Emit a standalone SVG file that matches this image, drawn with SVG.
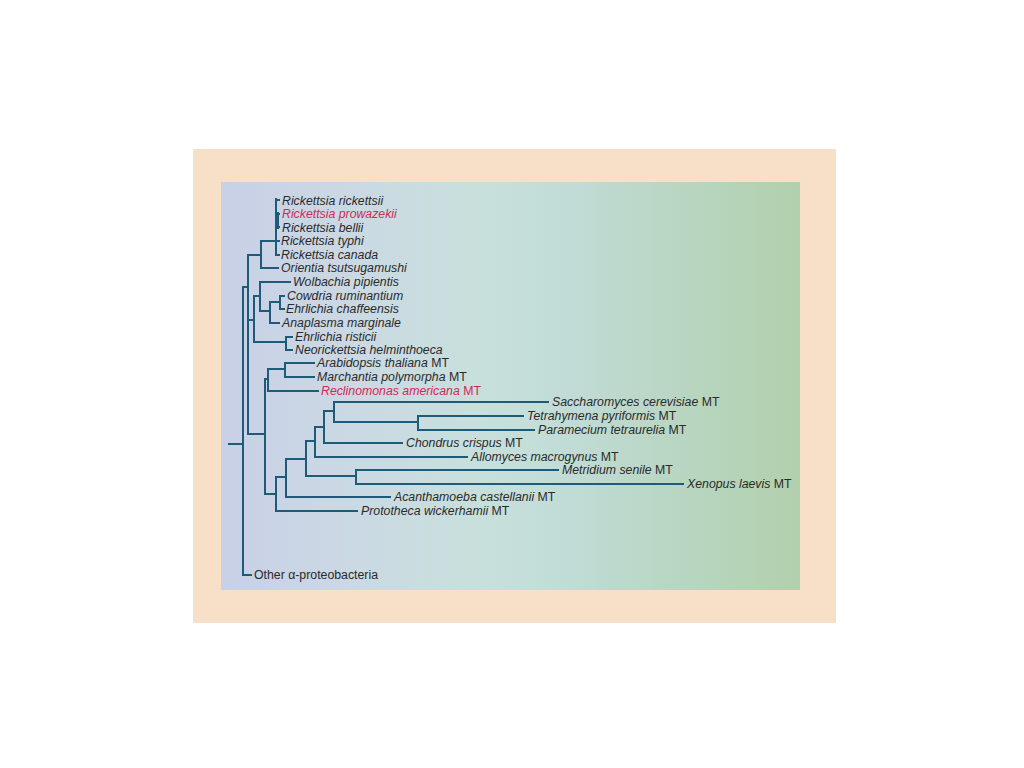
<svg xmlns="http://www.w3.org/2000/svg" width="1024" height="768" viewBox="0 0 1024 768">
<defs>
<linearGradient id="panelGrad" x1="221" y1="0" x2="800" y2="0" gradientUnits="userSpaceOnUse">
<stop offset="0" stop-color="#c8d0e6"/>
<stop offset="0.2" stop-color="#cbd8e4"/>
<stop offset="0.45" stop-color="#c8e0dc"/>
<stop offset="0.6" stop-color="#c1dcd6"/>
<stop offset="0.75" stop-color="#bad7c6"/>
<stop offset="1" stop-color="#b2d0ac"/>
</linearGradient>
<style>
.ln{fill:none;stroke:#1d5b78;stroke-width:2;stroke-linecap:square}
.lb{font-family:"Liberation Sans",Arial,sans-serif;font-size:12.3px;fill:#2a2a2a}
.sp{font-style:italic}
.red{fill:#cf2a55}
</style>
</defs>
<rect x="0" y="0" width="1024" height="768" fill="#ffffff"/>
<rect x="193" y="149" width="643" height="474" fill="#f8e0c8"/>
<rect x="221" y="182" width="579" height="408" fill="url(#panelGrad)"/>

<g id="connectors">
<!-- Rickettsia -->
<path class="ln" d="M276 199V255M276 200H279M276 214H279M276 227H279M276 241H279M276 255H279"/>
<path d="M277.5 212V229" stroke="#1d5b78" stroke-width="3"/>
<path class="ln" d="M261 241H276M261 241V268H278M248 255H261"/>
<!-- Anaplasmataceae -->
<path class="ln" d="M260 282H290M260 282V311H270M270 302V323H279M270 302H280M280 296V309M280 296H284M280 309H284"/>
<path class="ln" d="M254 296H260M254 296V342H286M286 337V350M286 337H292M286 350H292"/>
<path class="ln" d="M248 320H254"/>
<!-- spine -->
<path class="ln" d="M248 255V434M243 287H248M243 287V575H251M229 444H243"/>
<!-- mitochondria -->
<path class="ln" d="M248 434H265M265 379V494"/>
<path class="ln" d="M265 379H268M268 369V391H318M268 369H285M285 363V377M285 363H314M285 377H314"/>
<path class="ln" d="M265 494H276M276 477V511H357M276 477H286M286 459V497H390M286 459H306"/>
<path class="ln" d="M306 441V476H356M356 470V484M356 470H558M356 484H683"/>
<path class="ln" d="M306 441H315M315 427V457H467M315 427H324M324 411V443H402M324 411H334"/>
<path class="ln" d="M334 402V422M334 402H548M334 422H418M418 416V430M418 416H523M418 430H534"/>
</g>

<g id="n-rickettsii"><text class="lb sp" x="282" y="205">Rickettsia rickettsii</text></g>
<g id="n-prowazekii"><text class="lb sp red" x="282" y="218">Rickettsia prowazekii</text></g>
<g id="n-bellii"><text class="lb sp" x="282" y="232">Rickettsia bellii</text></g>
<g id="n-typhi"><text class="lb sp" x="281" y="245">Rickettsia typhi</text></g>
<g id="n-canada"><text class="lb sp" x="281" y="259">Rickettsia canada</text></g>
<g id="n-orientia"><text class="lb sp" x="281" y="272">Orientia tsutsugamushi</text></g>
<g id="n-wolbachia"><text class="lb sp" x="293" y="286">Wolbachia pipientis</text></g>
<g id="n-cowdria"><text class="lb sp" x="287" y="300">Cowdria ruminantium</text></g>
<g id="n-chaffeensis"><text class="lb sp" x="286" y="313">Ehrlichia chaffeensis</text></g>
<g id="n-anaplasma"><text class="lb sp" x="282" y="327">Anaplasma marginale</text></g>
<g id="n-risticii"><text class="lb sp" x="295" y="341">Ehrlichia risticii</text></g>
<g id="n-neorickettsia"><text class="lb sp" x="295" y="354">Neorickettsia helminthoeca</text></g>
<g id="n-arabidopsis"><text class="lb" x="317" y="367"><tspan class="sp">Arabidopsis thaliana</tspan> MT</text></g>
<g id="n-marchantia"><text class="lb" x="317" y="381"><tspan class="sp">Marchantia polymorpha</tspan> MT</text></g>
<g id="n-reclinomonas"><text class="lb red" x="321" y="395"><tspan class="sp">Reclinomonas americana</tspan> MT</text></g>
<g id="n-saccharomyces"><text class="lb" x="552" y="406"><tspan class="sp">Saccharomyces cerevisiae</tspan> MT</text></g>
<g id="n-tetrahymena"><text class="lb" x="527" y="420"><tspan class="sp">Tetrahymena pyriformis</tspan> MT</text></g>
<g id="n-paramecium"><text class="lb" x="538" y="434"><tspan class="sp">Paramecium tetraurelia</tspan> MT</text></g>
<g id="n-chondrus"><text class="lb" x="406" y="447"><tspan class="sp">Chondrus crispus</tspan> MT</text></g>
<g id="n-allomyces"><text class="lb" x="471" y="461"><tspan class="sp">Allomyces macrogynus</tspan> MT</text></g>
<g id="n-metridium"><text class="lb" x="562" y="474"><tspan class="sp">Metridium senile</tspan> MT</text></g>
<g id="n-xenopus"><text class="lb" x="687" y="488"><tspan class="sp">Xenopus laevis</tspan> MT</text></g>
<g id="n-acanthamoeba"><text class="lb" x="394" y="501"><tspan class="sp">Acanthamoeba castellanii</tspan> MT</text></g>
<g id="n-prototheca"><text class="lb" x="361" y="515"><tspan class="sp">Prototheca wickerhamii</tspan> MT</text></g>
<g id="n-other"><text class="lb" x="254" y="579">Other α-proteobacteria</text></g>
</svg>
